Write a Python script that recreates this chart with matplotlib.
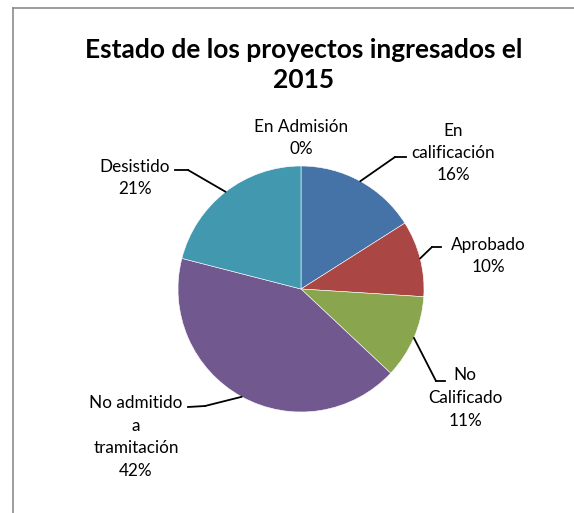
import matplotlib
matplotlib.use('Agg')
import matplotlib.pyplot as plt
from matplotlib.lines import Line2D
import numpy as np

plt.rcParams['font.family'] = ['Lato', 'DejaVu Sans']

labels = ['En Admisión', 'En\ncalificación', 'Aprobado', 'No\nCalificado',
          'No admitido\na\ntramitación', 'Desistido']
values = [0, 16, 10, 11, 42, 21]
colors = ['#4572A7', '#4572A7', '#AA4643', '#89A54E', '#71588F', '#4198AF']

W, H = 574, 513
fig = plt.figure(figsize=(W / 100, H / 100), dpi=100)

# pie centre (301, 289) px, radius 123 px
cx, cy, r = 301, 289, 123
ax = fig.add_axes([(cx - r) / W, (H - cy - r) / H, 2 * r / W, 2 * r / H])
wedges, _ = ax.pie(values, colors=colors, startangle=90, counterclock=False,
                   radius=1, wedgeprops=dict(edgecolor='white', linewidth=0.4))
ax.set_xlim(-1, 1)
ax.set_ylim(-1, 1)
ax.set_aspect('equal')
ax.axis('off')

fig.text(304 / W, 1 - 65 / H, 'Estado de los proyectos ingresados el\n2015',
         ha='center', va='center', fontsize=19, fontweight='bold', linespacing=1.25)

# label layout in image pixels: text centre, elbow, end of horizontal stub
layout = [
    ((301, 138), None, None),
    ((453, 153), (395, 157), (406, 157)),
    ((488, 256), (432, 247), (441, 247)),
    ((465, 398), (436, 381), (445, 381)),
    ((136, 437), (205, 406), (188, 407)),
    ((135, 178), (188, 170), (175, 170)),
]

for w, v, lab, (txt, elbow, end) in zip(wedges, values, labels, layout):
    pct = f'{v / sum(values) * 100:.0f}%'
    fig.text(txt[0] / W, 1 - txt[1] / H, lab + '\n' + pct, ha='center', va='center',
             fontsize=12.3, linespacing=1.5, color='black')
    if elbow is None:
        continue
    ang = np.deg2rad((w.theta1 + w.theta2) / 2)
    ax.annotate('', xy=(np.cos(ang), np.sin(ang)), xycoords='data',
                xytext=(elbow[0], H - elbow[1]), textcoords='figure pixels',
                arrowprops=dict(arrowstyle='-', color='black', lw=1.3,
                                shrinkA=0, shrinkB=0), annotation_clip=False)
    fig.add_artist(Line2D([elbow[0] / W, end[0] / W], [1 - elbow[1] / H, 1 - end[1] / H],
                          color='black', lw=1.3))

# chart area border (top and left edges visible)
fig.add_artist(Line2D([13 / W, 1], [1 - 8 / H, 1 - 8 / H], color='#8c8c8c', lw=1.2))
fig.add_artist(Line2D([13 / W, 13 / W], [0, 1 - 8 / H], color='#8c8c8c', lw=1.2))

fig.savefig('out.png', dpi=100)
